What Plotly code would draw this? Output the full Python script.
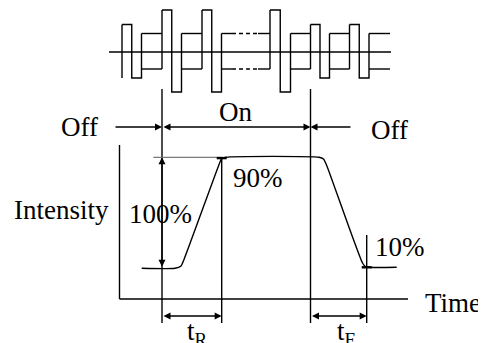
"""
Rise / fall time diagram: pulse train on top, intensity response below.
"""

import plotly.graph_objects as go

# ---------------------------------------------------------------------------
# Values (axis units; y grows downward)
# ---------------------------------------------------------------------------
# pulse train
TRAIN_AXIS_Y = 52
TRAIN_AXIS_X = [109, 391]
PULSE_START = [122, 162, 202, 270, 310.5, 349.5]
PULSE_WIDTH = [19.5, 19.5, 19.5, 20.5, 19, 19.5]
PULSE_KIND = ["mid", "high", "high", "high", "mid", "mid"]
PULSE_LEVELS = {"high": (10, 92), "mid": (24.5, 78)}
CARRIER_LEVELS = [33.5, 69]
TRAIN_END = 390
DASHED_SPAN = [232, 258]

# on / off timing
ON_EDGES = [162, 310.5]
EDGE_TOP, EDGE_BOTTOM = 89, 323
STATE_ROW_Y = 127
STATE_ROW_X = [114, 352]

# intensity response
CURVE_T = [141.7, 175, 181, 184, 218.5, 221.5, 226, 319, 323.5, 326.5, 362.5, 365.5, 369, 396.7]
CURVE_I = [268.3, 268.3, 266, 259.5, 166, 159, 157.3, 157.3, 159, 165, 263, 266.5, 267.3, 267.3]
LEVEL_100 = 157.3
LEVEL_0 = 268.3
T90 = 221.7
T10 = 366.7
T10_MARK_TOP = 235
AXIS_ORIGIN = [119.5, 299]
AXIS_Y_TOP = 145
AXIS_X_END = 408
TIMING_ROW_Y = 316

FONT = "Times New Roman, Liberation Serif, serif"
INK = "black"
LW = 1.4
PAGE_OFFSET = 8  # the page body margin moves the figure by this much

fig = go.Figure()


def add_lines(xs, ys, dash="solid", color=INK, width=LW):
    fig.add_trace(go.Scatter(
        x=xs, y=ys, mode="lines",
        line=dict(color=color, width=width, dash=dash),
        hoverinfo="skip", showlegend=False,
    ))


def add_arrow(x0, y0, x1, y1, both=False):
    fig.add_annotation(
        x=x1, y=y1, ax=x0, ay=y0, xref="x", yref="y", axref="x", ayref="y",
        text="", showarrow=True, arrowhead=2, arrowsize=1, arrowwidth=LW,
        arrowcolor=INK, arrowside="end+start" if both else "end", standoff=0,
        startstandoff=0,
    )


def label(text, x, y, size=27):
    fig.add_annotation(
        x=x, y=y, xref="x", yref="y", text=text, showarrow=False,
        font=dict(family=FONT, size=size, color=INK),
        xanchor="center", yanchor="middle",
    )


# ---------------------------------------------------------------------------
# Pulse train
# ---------------------------------------------------------------------------
xs, ys = [], []
dash_x, dash_y = [], []
xs += [TRAIN_AXIS_X[0], TRAIN_AXIS_X[1], None]
ys += [TRAIN_AXIS_Y, TRAIN_AXIS_Y, None]
c_top, c_bot = CARRIER_LEVELS
for i, (s, w, kind) in enumerate(zip(PULSE_START, PULSE_WIDTH, PULSE_KIND)):
    top, bot = PULSE_LEVELS[kind]
    h = w / 2
    first_low = bot if i == 0 else c_bot
    xs += [s, s, None, s, s + h, s + h, s + h, s + w, s + w, None]
    ys += [first_low, top, None, top, top, bot, bot, bot, c_top, None]
    nxt = PULSE_START[i + 1] if i + 1 < len(PULSE_START) else TRAIN_END
    seg_start = s + w
    for lvl in CARRIER_LEVELS:
        if seg_start < DASHED_SPAN[0] and nxt > DASHED_SPAN[1]:
            xs += [seg_start, DASHED_SPAN[0], None, DASHED_SPAN[1], nxt, None]
            ys += [lvl, lvl, None, lvl, lvl, None]
            dash_x += [DASHED_SPAN[0], DASHED_SPAN[1], None]
            dash_y += [lvl, lvl, None]
        else:
            xs += [seg_start, nxt, None]
            ys += [lvl, lvl, None]
add_lines(xs, ys)
add_lines(dash_x, dash_y, dash="4px,3px")

# ---------------------------------------------------------------------------
# On / off boundaries and state arrows
# ---------------------------------------------------------------------------
edge_x, edge_y = [], []
for e in ON_EDGES:
    edge_x += [e, e, None]
    edge_y += [EDGE_TOP, EDGE_BOTTOM, None]
# 90% / 10% guide lines
edge_x += [T90, T90, None, T10, T10, None]
edge_y += [LEVEL_100, EDGE_BOTTOM, None, T10_MARK_TOP, EDGE_BOTTOM, None]
add_lines(edge_x, edge_y)

add_arrow(STATE_ROW_X[0], STATE_ROW_Y, ON_EDGES[0], STATE_ROW_Y)
add_arrow(ON_EDGES[0], STATE_ROW_Y, ON_EDGES[1], STATE_ROW_Y, both=True)
add_arrow(STATE_ROW_X[1], STATE_ROW_Y, ON_EDGES[1], STATE_ROW_Y)

# ---------------------------------------------------------------------------
# Intensity axes, curve and markers
# ---------------------------------------------------------------------------
add_lines([AXIS_ORIGIN[0], AXIS_ORIGIN[0], None, AXIS_ORIGIN[0], AXIS_X_END],
          [AXIS_Y_TOP, AXIS_ORIGIN[1], None, AXIS_ORIGIN[1], AXIS_ORIGIN[1]])
add_lines([153.3, T90], [LEVEL_100, LEVEL_100], color="#7a7a7a", width=1.2)
fig.add_trace(go.Scatter(
    x=CURVE_T, y=CURVE_I, mode="lines",
    line=dict(color=INK, width=LW, shape="spline", smoothing=0.6),
    hoverinfo="skip", showlegend=False,
))
# short heavy ticks at the 90% and 10% points
add_lines([T90 - 5, T90 + 5, None, T10 - 5, T10 + 5],
          [LEVEL_100 + 0.8, LEVEL_100 + 0.8, None, CURVE_I[-1], CURVE_I[-1]], width=2.4)

add_arrow(ON_EDGES[0], LEVEL_0, ON_EDGES[0], LEVEL_100, both=True)
add_arrow(ON_EDGES[0], TIMING_ROW_Y, T90, TIMING_ROW_Y, both=True)
add_arrow(ON_EDGES[1], TIMING_ROW_Y, T10, TIMING_ROW_Y, both=True)

# ---------------------------------------------------------------------------
# Labels
# ---------------------------------------------------------------------------
label("Off", 79, 127)
label("On", 235, 112)
label("Off", 389, 129.5)
label("Intensity", 61, 210)
label("100%", 160, 214)
label("90%", 257.5, 178)
label("10%", 400, 246.7)
label("Time", 452.5, 303)
label("t<sub>R</sub>", 197, 333)
label("t<sub>F</sub>", 346, 333)

fig.update_layout(
    width=486, height=343,
    margin=dict(l=0, r=0, t=0, b=0),
    paper_bgcolor="white", plot_bgcolor="white",
    xaxis=dict(range=[PAGE_OFFSET, 486 + PAGE_OFFSET], visible=False, fixedrange=True),
    yaxis=dict(range=[343 + PAGE_OFFSET, PAGE_OFFSET], visible=False, fixedrange=True),
    showlegend=False,
)

fig.write_html("out.html")
